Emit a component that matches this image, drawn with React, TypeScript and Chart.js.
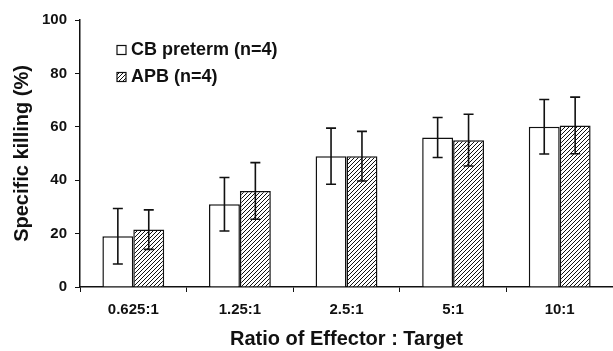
import React, { useEffect, useRef } from "react";
import { Chart, registerables } from "chart.js";

Chart.register(...registerables);

const categories = ["0.625:1", "1.25:1", "2.5:1", "5:1", "10:1"];
const cbValues = [19, 31, 49, 56, 60];
const cbErrors = [10.4, 10, 10.5, 7.5, 10.2];
const apbValues = [21.5, 36, 49, 55, 60.5];
const apbErrors = [7.4, 10.6, 9.3, 9.7, 10.6];
const seriesLabels = ["CB preterm (n=4)", "APB (n=4)"];
const yTicks = [0, 20, 40, 60, 80, 100];

function makeHatch(): CanvasPattern | string {
  const c = document.createElement("canvas");
  const s = 4;
  c.width = s;
  c.height = s;
  const g = c.getContext("2d");
  if (!g) return "#fff";
  g.fillStyle = "#fff";
  g.fillRect(0, 0, s, s);
  g.strokeStyle = "#111";
  g.lineWidth = 1;
  g.beginPath();
  g.moveTo(0, s);
  g.lineTo(s, 0);
  g.moveTo(-1, 1);
  g.lineTo(1, -1);
  g.moveTo(s - 1, s + 1);
  g.lineTo(s + 1, s - 1);
  g.stroke();
  const p = g.createPattern(c, "repeat");
  return p || "#fff";
}

const errorBars = {
  id: "errorBars",
  afterDatasetsDraw(chart: any) {
    const ctx = chart.ctx;
    const y = chart.scales.y;
    const errs = [cbErrors, apbErrors];
    const vals = [cbValues, apbValues];
    ctx.save();
    ctx.strokeStyle = "#111";
    ctx.lineWidth = 1.6;
    chart.data.datasets.forEach((_: any, di: number) => {
      const meta = chart.getDatasetMeta(di);
      meta.data.forEach((el: any, i: number) => {
        const x = el.x;
        const top = y.getPixelForValue(vals[di][i] + errs[di][i]);
        const bot = y.getPixelForValue(vals[di][i] - errs[di][i]);
        ctx.beginPath();
        ctx.moveTo(x, top);
        ctx.lineTo(x, bot);
        ctx.moveTo(x - 5, top);
        ctx.lineTo(x + 5, top);
        ctx.moveTo(x - 5, bot);
        ctx.lineTo(x + 5, bot);
        ctx.stroke();
      });
    });
    ctx.restore();
  },
};

const legendPlugin = {
  id: "insideLegend",
  afterDraw(chart: any) {
    const ctx = chart.ctx;
    const fills = chart.data.datasets.map((d: any) => d.backgroundColor);
    ctx.save();
    ctx.font = "bold 18px 'Liberation Sans', Arial, sans-serif";
    ctx.textBaseline = "middle";
    const rows = [50, 77];
    seriesLabels.forEach((lab, i) => {
      const yy = rows[i];
      ctx.fillStyle = fills[i];
      ctx.fillRect(117, yy - 4.5, 9, 9);
      ctx.strokeStyle = "#111";
      ctx.lineWidth = 1.2;
      ctx.strokeRect(117, yy - 4.5, 9, 9);
      ctx.fillStyle = "#111";
      ctx.fillText(lab, 131, yy);
    });
    ctx.restore();
  },
};

export default function App() {
  const ref = useRef<HTMLCanvasElement>(null);
  useEffect(() => {
    if (!ref.current) return;
    const hatch = makeHatch();
    const font = "'Liberation Sans', Arial, sans-serif";
    const chart = new Chart(ref.current, {
      type: "bar",
      data: {
        labels: categories,
        datasets: [
          {
            label: seriesLabels[0],
            data: cbValues,
            backgroundColor: "#fff",
            borderColor: "#111",
            borderWidth: 1.5,
            categoryPercentage: 0.58,
            barPercentage: 1,
          },
          {
            label: seriesLabels[1],
            data: apbValues,
            backgroundColor: hatch as any,
            borderColor: "#111",
            borderWidth: 1.5,
            categoryPercentage: 0.58,
            barPercentage: 1,
          },
        ],
      },
      options: {
        animation: false,
        responsive: false,
        maintainAspectRatio: false,
        layout: { padding: { top: 20, right: 0, left: 0, bottom: 0 } },
        plugins: { legend: { display: false }, tooltip: { enabled: false } },
        scales: {
          x: {
            offset: true,
            grid: {
              offset: true,
              drawOnChartArea: false,
              drawTicks: true,
              tickLength: 5,
              color: "#111",
              lineWidth: 1,
            },
            border: { color: "#111", width: 1.5 },
            ticks: {
              color: "#111",
              font: { family: font, size: 15, weight: "bold" },
              padding: 9,
              maxRotation: 0,
            },
            title: {
              display: true,
              text: "Ratio of Effector : Target",
              color: "#111",
              font: { family: font, size: 20, weight: "bold" },
              padding: { top: 4, bottom: 0 },
            },
            afterFit(axis: any) {
              axis.height = 64;
            },
          },
          y: {
            min: 0,
            max: 100,
            afterBuildTicks(axis: any) {
              axis.ticks = yTicks.map((v) => ({ value: v }));
            },
            grid: {
              drawOnChartArea: false,
              drawTicks: true,
              tickLength: 5,
              color: "#111",
            },
            border: { color: "#111", width: 1.5 },
            ticks: {
              color: "#111",
              font: { family: font, size: 15, weight: "bold" },
              padding: 8,
            },
            title: {
              display: true,
              text: "Specific killing (%)",
              color: "#111",
              font: { family: font, size: 20, weight: "bold" },
              padding: { top: 10, bottom: 4 },
            },
            afterFit(axis: any) {
              axis.width = 80;
            },
          },
        },
      },
      plugins: [errorBars, legendPlugin],
    });
    return () => chart.destroy();
  }, []);
  return (
    <div style={{ position: "absolute", left: 0, top: 0, width: 613, height: 351, background: "#fff" }}>
      <canvas ref={ref} width={613} height={351} style={{ width: 613, height: 351 }} />
    </div>
  );
}
